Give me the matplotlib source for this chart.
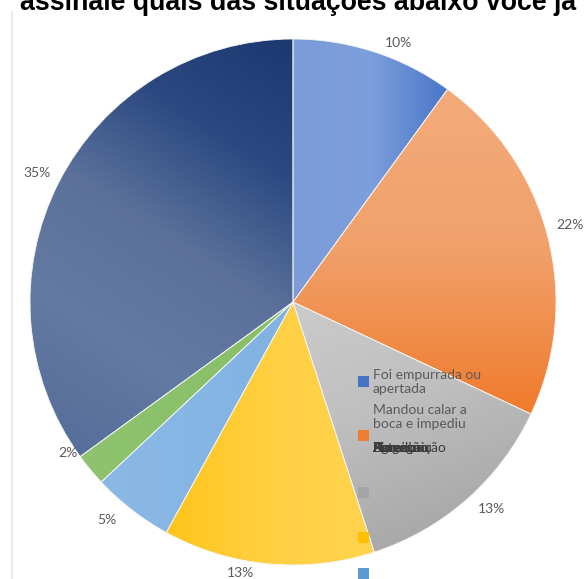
import numpy as np
import matplotlib
matplotlib.use("Agg")
import matplotlib.pyplot as plt
from matplotlib.colors import LinearSegmentedColormap
from matplotlib.patches import Rectangle
from matplotlib.lines import Line2D

# ---- data -------------------------------------------------------------
title = "assinale quais das situações abaixo você já"
values = [10, 22, 13, 13, 5, 2, 35]
base_colors = ["#4472c4", "#ed7d31", "#a5a5a5", "#ffc000", "#5b9bd5", "#70ad47", "#2a4a80"]
legend_labels = [
    "Foi empurrada ou\napertada",
    "Mandou calar a\nboca e impediu",
]
# labels of the remaining entries that end up stacked on one line
stacked_labels = ["Agressão", "Ameaçou", "Xingou", "Humilhou", "Bateu", "Perseguição"]

# per-slice gradient: colour stops and direction
grad_stops = [
    ["#7b9cd9", "#7d9fdc", "#4a77c9"],
    ["#f4ab7a", "#f1a06a", "#f07b2c"],
    ["#cbcbcb", "#bfbfbf", "#a9a9a9"],
    ["#ffc51a", "#ffd042", "#ffd34f"],
    ["#8bb9e6", "#80b2e2"],
    ["#8fc36f", "#88bf66"],
    ["#1d3870", "#2b4881", "#5b719b", "#637aa2", "#566e9a"],
]
grad_dirs = [(1, 0), (0, -1), (0.4, -1), (1, 0), (1, 0), (1, 0), (-0.55, -0.85)]

# pixel nudges for the percentage labels ("best fit" placement)
label_nudge = [(17, -12), (1, 6), (10, 7), (-26, 13), (-11, 7), (-5, 31), (-2, -1)]

# ---- figure ------------------------------------------------------------
W, H, DPI = 584, 579, 100
fig = plt.figure(figsize=(W / DPI, H / DPI), dpi=DPI)
fig.patch.set_facecolor("white")

cx, cy, R = 293, 302, 263  # pie centre / radius in pixels (from top-left)
ax = fig.add_axes([(cx - R) / W, (H - cy - R) / H, 2 * R / W, 2 * R / H])

wedges, texts, autotexts = ax.pie(
    values,
    colors=base_colors,
    startangle=90,
    counterclock=False,
    autopct="%1.0f%%",
    pctdistance=1.085,
    wedgeprops=dict(linewidth=0.6, edgecolor="#f4f4f4"),
    textprops=dict(color="#595959", fontsize=10, family=["Lato", "DejaVu Sans"]),
)
ax.set_xlim(-1, 1)
ax.set_ylim(-1, 1)
ax.set_aspect("auto")

# gradient fill clipped to each wedge
n = 600
gx, gy = np.meshgrid(np.linspace(-1, 1, n), np.linspace(-1, 1, n))
ang = np.degrees(np.arctan2(gy, gx)) % 360
rad = np.hypot(gx, gy)
for w, stops, d in zip(wedges, grad_stops, grad_dirs):
    t1, t2 = w.theta1 % 360, w.theta2 % 360
    if t1 <= t2:
        inside = (ang >= t1) & (ang <= t2)
    else:
        inside = (ang >= t1) | (ang <= t2)
    inside &= rad <= 1
    dx, dy = d
    p = gx * dx + gy * dy
    pmin, pmax = p[inside].min(), p[inside].max()
    t = np.clip((p - pmin) / (pmax - pmin), 0, 1)
    cmap = LinearSegmentedColormap.from_list("g", stops)
    im = ax.imshow(t, cmap=cmap, extent=(-1, 1, -1, 1), origin="lower",
                   vmin=0, vmax=1, interpolation="bilinear", zorder=w.get_zorder())
    im.set_clip_path(w)
for w in wedges:
    w.set_facecolor("none")
    w.set_zorder(3)
for t, (ox, oy) in zip(autotexts, label_nudge):
    x, y = t.get_position()
    t.set_position((x + ox / R, y + oy / R))
    t.set_clip_on(False)
    t.set_zorder(5)

# ---- title (partly cut off at the top) -----------------------------------
fig.text(298 / W, 1 - 10 / H, title, ha="center", va="baseline",
         fontsize=19.3, fontweight="bold", color="black",
         family=["Liberation Sans", "DejaVu Sans"])

# thin frame line on the left
fig.add_artist(Line2D([12 / W, 12 / W], [0, 1 - 12 / H], color="#e6e6e6", lw=1.2))

# ---- legend drawn over the pie ------------------------------------------
leg_font = dict(color="#595959", fontsize=10, family=["Lato", "DejaVu Sans"],
                linespacing=1.22, zorder=10)
marker_y = [381, 435, 492, 537, 573]
mx, msz = 358, 11
for y, c in zip(marker_y, base_colors[:5]):
    fig.add_artist(Rectangle((mx / W, 1 - (y + msz / 2) / H), msz / W, msz / H,
                             facecolor=c, edgecolor="none", zorder=10))
fig.text(373 / W, 1 - 369 / H, legend_labels[0], ha="left", va="top", **leg_font)
fig.text(373 / W, 1 - 404 / H, legend_labels[1], ha="left", va="top", **leg_font)
for lab in stacked_labels:
    fig.text(373 / W, 1 - 452 / H, lab, ha="left", va="baseline",
             color="#3a3a3a", fontsize=10, family=["Lato", "DejaVu Sans"], zorder=10)

fig.savefig("out.png", dpi=DPI)
